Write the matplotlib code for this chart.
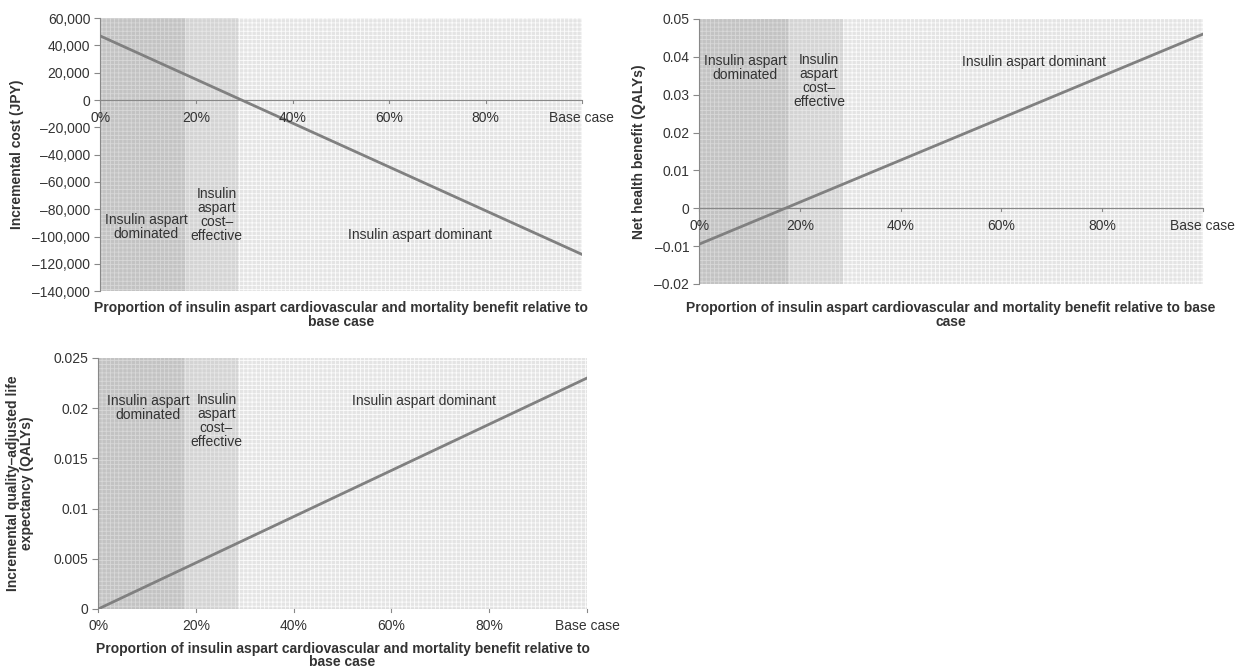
import matplotlib
matplotlib.use("Agg")
import matplotlib.pyplot as plt
from matplotlib.ticker import FuncFormatter

plt.rcParams['font.family'] = ['Liberation Sans', 'DejaVu Sans']
plt.rcParams['hatch.linewidth'] = 0.6

# categories on the x axis
categories = ["0%", "20%", "40%", "60%", "80%", "Base case"]

# series values
cost_jpy = [47000, 15000, -17000, -49000, -81000, -113000]
net_benefit = [-0.0095, 0.0016, 0.0127, 0.0238, 0.0349, 0.046]
incr_qaly = [0.0, 0.0046, 0.0092, 0.0138, 0.0184, 0.023]

# region thresholds (percent of base-case benefit)
dominated_to = 17.6
cost_effective_to = 28.6

line_col = "#808080"
txt_col = "#333333"


def minus_fmt(fmt):
    return FuncFormatter(lambda v, p: fmt(v).replace("-", "\u2013"))


def shade(ax):
    n = len(categories) - 1
    a = dominated_to / 20.0
    b = cost_effective_to / 20.0
    ax.axvspan(0, a, facecolor="#c3c3c3", edgecolor="#d8d8d8", hatch="++++", lw=0, zorder=0)
    ax.axvspan(a, b, facecolor="#d4d4d4", edgecolor="#e6e6e6", hatch="++++", lw=0, zorder=0)
    ax.axvspan(b, n, facecolor="#e4e4e4", edgecolor="#fbfbfb", hatch="++++", lw=0, zorder=0)


def style(ax, ylim, yticks, fmt, zero_axis):
    x = range(len(categories))
    ax.set_xlim(-0.001, len(categories) - 1 + 0.001)
    ax.set_ylim(*ylim)
    ax.set_yticks(yticks)
    ax.yaxis.set_major_formatter(minus_fmt(fmt))
    for s in ["top", "right", "bottom"]:
        ax.spines[s].set_visible(False)
    ax.spines["left"].set_color("#888888")
    ax.spines["left"].set_linewidth(0.8)
    ax.tick_params(axis="y", length=4, width=0.8, color="#888888", labelsize=10, labelcolor=txt_col, pad=3)
    ax.set_xticks(list(x))
    ax.set_xticklabels([])
    ax.tick_params(axis="x", length=0)
    # horizontal axis line at zero (or at the bottom)
    y0 = 0 if zero_axis else ylim[0]
    ax.axhline(y0, color="#888888", lw=0.8, zorder=2)
    span = ylim[1] - ylim[0]
    for i, lab in enumerate(categories):
        ax.plot([i, i], [y0, y0 - span * 0.012], color="#888888", lw=0.8, zorder=2, clip_on=False)
        ax.text(i, y0 - span * 0.04, lab, ha="center", va="top", fontsize=10, color=txt_col, clip_on=False)


fig = plt.figure(figsize=(12.38, 6.71), dpi=100)

# panel 1: incremental cost
ax1 = fig.add_axes([0.0808, 0.566, 0.3893, 0.407])
shade(ax1)
ax1.plot(range(len(categories)), cost_jpy, color=line_col, lw=2, zorder=3)
style(ax1, (-140000, 60000), range(-140000, 60001, 20000), lambda v: f"{v:,.0f}", True)
ax1.set_ylabel("Incremental cost (JPY)", fontsize=10, fontweight="bold", color=txt_col, labelpad=6)
ax1.text(0.48, -93000, "Insulin aspart\ndominated", ha="center", va="center", fontsize=10, color=txt_col, linespacing=1.0)
ax1.text(1.21, -84000, "Insulin\naspart\ncost\u2013\neffective", ha="center", va="center", fontsize=10, color=txt_col, linespacing=1.0)
ax1.text(3.32, -99000, "Insulin aspart dominant", ha="center", va="center", fontsize=10, color=txt_col)
fig.text(0.2755, 0.551, "Proportion of insulin aspart cardiovascular and mortality benefit relative to\nbase case",
         ha="center", va="top", fontsize=10, fontweight="bold", color=txt_col, linespacing=1.0)

# panel 2: net health benefit
ax2 = fig.add_axes([0.5646, 0.5768, 0.4071, 0.3949])
shade(ax2)
ax2.plot(range(len(categories)), net_benefit, color=line_col, lw=2, zorder=3)
style(ax2, (-0.02, 0.05), [-0.02, -0.01, 0, 0.01, 0.02, 0.03, 0.04, 0.05],
      lambda v: "0" if abs(v) < 1e-12 else f"{v:.2f}", True)
ax2.set_ylabel("Net health benefit (QALYs)", fontsize=10, fontweight="bold", color=txt_col, labelpad=6)
ax2.text(0.46, 0.037, "Insulin aspart\ndominated", ha="center", va="center", fontsize=10, color=txt_col, linespacing=1.0)
ax2.text(1.19, 0.0336, "Insulin\naspart\ncost\u2013\neffective", ha="center", va="center", fontsize=10, color=txt_col, linespacing=1.0)
ax2.text(3.32, 0.0387, "Insulin aspart dominant", ha="center", va="center", fontsize=10, color=txt_col)
fig.text(0.768, 0.551, "Proportion of insulin aspart cardiovascular and mortality benefit relative to base\ncase",
         ha="center", va="top", fontsize=10, fontweight="bold", color=txt_col, linespacing=1.0)

# panel 3: incremental QALE
ax3 = fig.add_axes([0.0792, 0.0924, 0.395, 0.3741])
shade(ax3)
ax3.plot(range(len(categories)), incr_qaly, color=line_col, lw=2, zorder=3)
style(ax3, (0, 0.025), [0, 0.005, 0.01, 0.015, 0.02, 0.025],
      lambda v: "0" if abs(v) < 1e-12 else f"{v:g}", False)
ax3.set_ylabel("Incremental quality\u2013adjusted life\nexpectancy (QALYs)", fontsize=10, fontweight="bold",
               color=txt_col, labelpad=14, linespacing=1.0)
ax3.text(0.51, 0.0200, "Insulin aspart\ndominated", ha="center", va="center", fontsize=10, color=txt_col, linespacing=1.0)
ax3.text(1.21, 0.0187, "Insulin\naspart\ncost\u2013\neffective", ha="center", va="center", fontsize=10, color=txt_col, linespacing=1.0)
ax3.text(3.33, 0.0207, "Insulin aspart dominant", ha="center", va="center", fontsize=10, color=txt_col)
fig.text(0.2767, 0.043, "Proportion of insulin aspart cardiovascular and mortality benefit relative to\nbase case",
         ha="center", va="top", fontsize=10, fontweight="bold", color=txt_col, linespacing=0.9)

fig.savefig("out.png", dpi=100, facecolor="white")
